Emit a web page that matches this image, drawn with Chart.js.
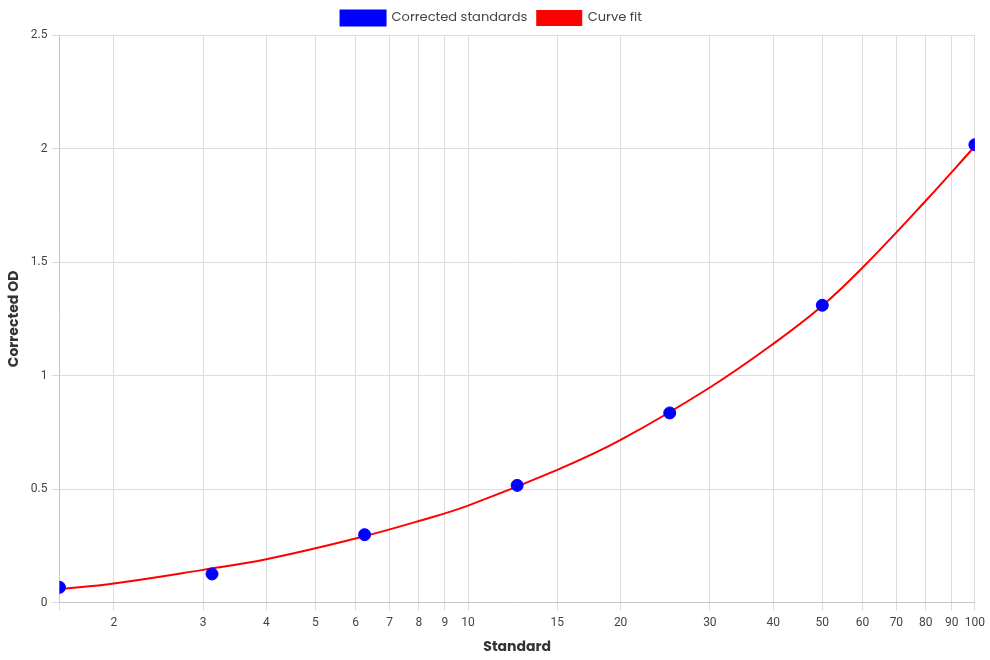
<!DOCTYPE html>
<html>
<head>
<meta charset="utf-8">
<script src="https://cdn.jsdelivr.net/npm/chart.js@4"></script>
<style>
  html, body { margin: 0; padding: 0; background: #fff; }
  #wrap { width: 990px; height: 660px; }
</style>
</head>
<body>
<div id="wrap"><canvas id="chart"></canvas></div>
<script>
// standards (x) and their corrected OD readings
const standards = [1.5625, 3.125, 6.25, 12.5, 25, 50, 100];
const correctedOD = [0.068, 0.127, 0.30, 0.517, 0.836, 1.31, 2.017];

// fitted curve
const fitX = [1.5625, 2, 3, 4, 6, 8, 10, 15, 20, 30, 40, 50, 60, 80, 100];
const fitY = [0.060, 0.085, 0.145, 0.192, 0.283, 0.36, 0.428, 0.585, 0.717, 0.948, 1.14, 1.308, 1.475, 1.77, 2.01];

// axis ticks
const xTicks = [1.5625, 2, 3, 4, 5, 6, 7, 8, 9, 10, 15, 20, 30, 40, 50, 60, 70, 80, 90, 100];
const yTicks = [0, 0.5, 1, 1.5, 2, 2.5];

const titleFont = "Poppins, Lato, 'Open Sans', sans-serif";
const tickFont = "Roboto, Arial, sans-serif";

const chart = document.getElementById('chart');

new Chart(chart, {
    type: 'line',
    data: {
        datasets: [
            {
                label: 'Corrected standards',
                data: standards.map((x, i) => ({ x: x, y: correctedOD[i] })),
                showLine: false,
                backgroundColor: 'blue',
                borderColor: 'blue',
                pointRadius: 6,
                pointHoverRadius: 6,
                order: 0
            },
            {
                label: 'Curve fit',
                data: fitX.map((x, i) => ({ x: x, y: fitY[i] })),
                borderColor: 'red',
                backgroundColor: 'red',
                borderWidth: 2,
                pointRadius: 0,
                tension: 0.4,
                order: 1
            }
        ]
    },
    options: {
        responsive: true,
        maintainAspectRatio: false,
        animation: false,
        layout: { padding: { right: 9, left: 2, top: 1 } },
        plugins: {
            legend: {
                labels: {
                    boxWidth: 44,
                    boxHeight: 14,
                    color: '#444',
                    font: { family: titleFont, size: 13 }
                }
            },
            tooltip: { enabled: false }
        },
        scales: {
            x: {
                type: 'logarithmic',
                min: xTicks[0],
                max: xTicks[xTicks.length - 1],
                title: {
                    display: true,
                    text: 'Standard',
                    color: '#333',
                    font: { family: titleFont, size: 14, weight: 'bold' }
                },
                grid: { color: '#ddd' },
                afterBuildTicks: (axis) => { axis.ticks = xTicks.map(v => ({ value: v })); },
                ticks: {
                    autoSkip: false,
                    maxRotation: 0,
                    padding: 5,
                    color: '#444',
                    font: { family: tickFont, size: 12 },
                    callback: (v, i) => i === 0 ? '' : String(v)
                }
            },
            y: {
                min: yTicks[0],
                max: yTicks[yTicks.length - 1],
                title: {
                    display: true,
                    text: 'Corrected OD',
                    color: '#333',
                    font: { family: titleFont, size: 14, weight: 'bold' }
                },
                grid: { color: '#ddd' },
                afterBuildTicks: (axis) => { axis.ticks = yTicks.map(v => ({ value: v })); },
                ticks: {
                    padding: 4,
                    color: '#444',
                    font: { family: tickFont, size: 12 },
                    callback: (v) => String(v)
                }
            }
        }
    }
})
</script>
</body>
</html>
